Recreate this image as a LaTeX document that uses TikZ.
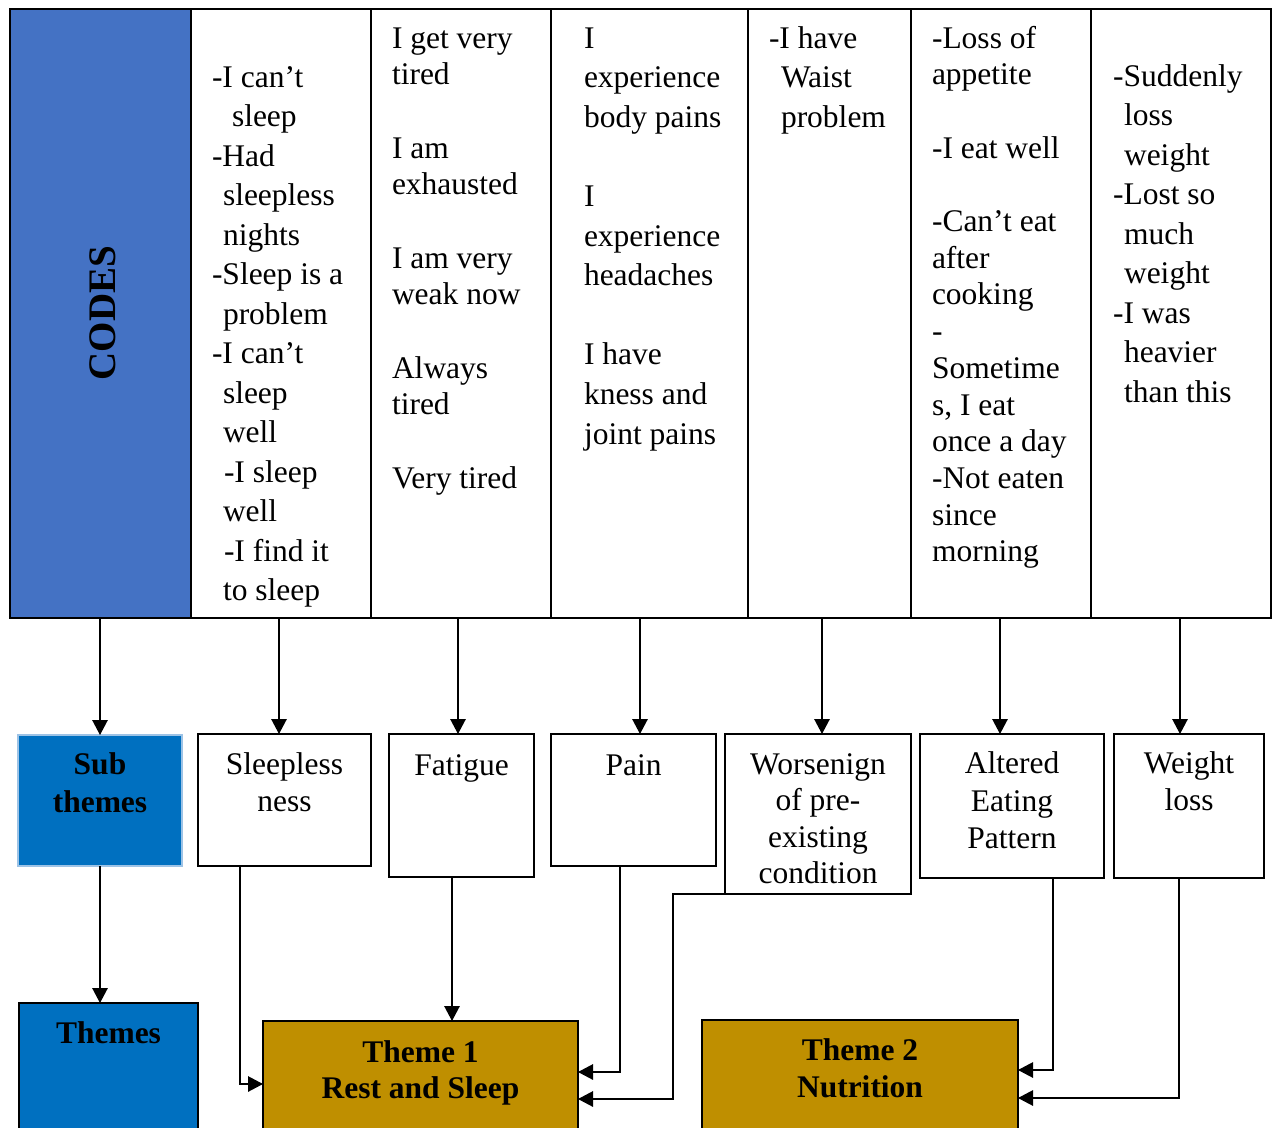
\documentclass[tikz,border=0pt]{standalone}
\usepackage{fontspec}
\setmainfont{Liberation Serif}
\usetikzlibrary{arrows.meta}
\definecolor{codesblue}{HTML}{4472C4}
\definecolor{themeblue}{HTML}{0070C0}
\definecolor{goldbox}{HTML}{BF8F00}
\definecolor{lightedge}{HTML}{9DC3E6}
\begin{document}
\begin{tikzpicture}[x=1pt,y=-1pt,
  every node/.style={inner sep=0pt, outer sep=0pt},
  col/.style={draw=black, line width=1.6pt, anchor=north west, minimum height=609pt},
  ct/.style={anchor=base west, font=\fontsize{31.5}{38}\selectfont},
  lt/.style={anchor=base, font=\fontsize{31.5}{38}\selectfont},
  bt/.style={anchor=base, font=\fontsize{31.5}{38}\selectfont\bfseries},
  box/.style={draw=black, line width=1.4pt, anchor=north west},
  arr/.style={line width=1.3pt, -{Triangle[length=15pt,width=15.5pt]}},
]
\useasboundingbox (0,0) rectangle (1274,1127);
\clip (0,0) rectangle (1274,1127);
\fill[white] (0,0) rectangle (1274,1127);

% ---- top table of codes ----
\node[col, fill=codesblue, minimum width=181pt] (c0) at (10,9) {};
\node[col, minimum width=180pt] (c1) at (191,9) {};
\node[col, minimum width=180pt] (c2) at (371,9) {};
\node[col, minimum width=197pt] (c3) at (551,9) {};
\node[col, minimum width=163pt] (c4) at (748,9) {};
\node[col, minimum width=180pt] (c5) at (911,9) {};
\node[col, minimum width=180pt] (c6) at (1091,9) {};
\node[rotate=90, font=\fontsize{39}{40}\selectfont\bfseries] (codes) at (103,313) {CODES};

% column 1
\node[ct] (a1) at (212,87) {-I can’t};
\node[ct] (a2) at (232,126.5) {sleep};
\node[ct] (a3) at (212,166) {-Had};
\node[ct] (a4) at (223,205.5) {sleepless};
\node[ct] (a5) at (223,245) {nights};
\node[ct] (a6) at (212,284.5) {-Sleep is a};
\node[ct] (a7) at (223,324) {problem};
\node[ct] (a8) at (212,363.5) {-I can’t};
\node[ct] (a9) at (223,403) {sleep};
\node[ct] (a10) at (223,442.5) {well};
\node[ct] (a11) at (224,482) {-I sleep};
\node[ct] (a12) at (223,521.5) {well};
\node[ct] (a13) at (224,561) {-I find it};
\node[ct] (a14) at (223,600.5) {to sleep};

% column 2
\foreach \i/\t [count=\n] in {0/I get very,1/tired,3/I am,4/exhausted,6/I am very,7/weak now,9/Always,10/tired,12/Very tired}
  \node[ct] (b\n) at (392,48+36.67*\i) {\t};

% column 3
\foreach \i/\t [count=\n] in {0/I,1/experience,2/body pains,4/I,5/experience,6/headaches,8/I have,9/kness and,10/joint pains}
  \node[ct] (d\n) at (584,48+39.6*\i) {\t};

% column 4
\node[ct] (e1) at (769,48) {-I have};
\node[ct] (e2) at (781,87.6) {Waist};
\node[ct] (e3) at (781,127.2) {problem};

% column 5
\foreach \i/\t [count=\n] in {0/-Loss of,1/appetite,3/-I eat well,5/-Can’t eat,6/after,7/cooking,8/-,9/Sometime,10/{s, I eat},11/once a day,12/-Not eaten,13/since,14/morning}
  \node[ct] (f\n) at (932,48+36.7*\i) {\t};

% column 6
\foreach \i/\x/\t [count=\n] in {0/1113/-Suddenly,1/1124/loss,2/1124/weight,3/1113/-Lost so,4/1124/much,5/1124/weight,6/1113/-I was,7/1124/heavier,8/1124/than this}
  \node[ct] (g\n) at (\x,86+39.5*\i) {\t};

% ---- sub themes row ----
\node[box, fill=themeblue, draw=lightedge, minimum width=164pt, minimum height=131pt] (sub) at (18,735) {};
\node[box, minimum width=173pt, minimum height=132pt] (s1) at (198,734) {};
\node[box, minimum width=145pt, minimum height=143pt] (s2) at (389,734) {};
\node[box, minimum width=165pt, minimum height=132pt] (s3) at (551,734) {};
\node[box, minimum width=186pt, minimum height=160pt] (s4) at (725,734) {};
\node[box, minimum width=184pt, minimum height=144pt] (s5) at (920,734) {};
\node[box, minimum width=150pt, minimum height=144pt] (s6) at (1114,734) {};

\node[bt] (subA) at (100,774) {Sub};
\node[bt] (subB) at (100,812) {themes};
\node[lt] (s1a) at (284.5,774) {Sleepless};
\node[lt] (s1b) at (284.5,811) {ness};
\node[lt] (s2a) at (461.5,775) {Fatigue};
\node[lt] (s3a) at (633.5,775) {Pain};
\node[lt] (s4a) at (818,774) {Worsenign};
\node[lt] (s4b) at (818,810) {of pre-};
\node[lt] (s4c) at (818,847) {existing};
\node[lt] (s4d) at (818,883) {condition};
\node[lt] (s5a) at (1012,773) {Altered};
\node[lt] (s5b) at (1012,811) {Eating};
\node[lt] (s5c) at (1012,848) {Pattern};
\node[lt] (s6a) at (1189,773) {Weight};
\node[lt] (s6b) at (1189,810) {loss};

% ---- themes row ----
\node[box, fill=themeblue, minimum width=179pt, minimum height=150pt] (themes) at (19,1003) {};
\node[box, fill=goldbox, minimum width=315pt, minimum height=140pt] (t1) at (263,1021) {};
\node[box, fill=goldbox, minimum width=316pt, minimum height=140pt] (t2) at (702,1020) {};
\node[bt] (thA) at (108.5,1043) {Themes};
\node[bt] (t1a) at (420.5,1062) {Theme 1};
\node[bt] (t1b) at (420.5,1098) {Rest and Sleep};
\node[bt] (t2a) at (860,1060) {Theme 2};
\node[bt] (t2b) at (860,1097) {Nutrition};

% ---- connectors: codes -> sub themes ----
\draw[arr] (c0.south -| sub.north) -- (sub.north);
\draw[arr] ([xshift=-2pt]c1.south) -- ([xshift=-2pt]c1.south |- s1.north);
\draw[arr] ([xshift=-3pt]c2.south) -- ([xshift=-3pt]c2.south |- s2.north);
\draw[arr] ([xshift=-9.5pt]c3.south) -- ([xshift=-9.5pt]c3.south |- s3.north);
\draw[arr] ([xshift=-7.5pt]c4.south) -- ([xshift=-7.5pt]c4.south |- s4.north);
\draw[arr] ([xshift=-1pt]c5.south) -- ([xshift=-1pt]c5.south |- s5.north);
\draw[arr] ([xshift=-1pt]c6.south) -- ([xshift=-1pt]c6.south |- s6.north);

% ---- connectors: sub themes -> themes ----
\draw[arr] (sub.south) -- (sub.south |- themes.north);
\draw[arr] ([xshift=42pt]s1.south west) |- ([yshift=7pt]t1.west);
\draw[arr] ([xshift=-9.5pt]s2.south) -- ([xshift=-9.5pt]s2.south |- t1.north);
\draw[arr] ([xshift=-13.5pt]s3.south) |- ([yshift=19pt]t1.east);
\draw[arr] ([xshift=43pt]s4.south west) -- ([xshift=-52pt]s4.south west) |- ([yshift=-8pt]t1.east);
\draw[arr] ([xshift=41pt]s5.south) |- ([yshift=20pt]t2.east);
\draw[arr] ([xshift=-10pt]s6.south) |- ([yshift=-8pt]t2.east);
\end{tikzpicture}
\end{document}
